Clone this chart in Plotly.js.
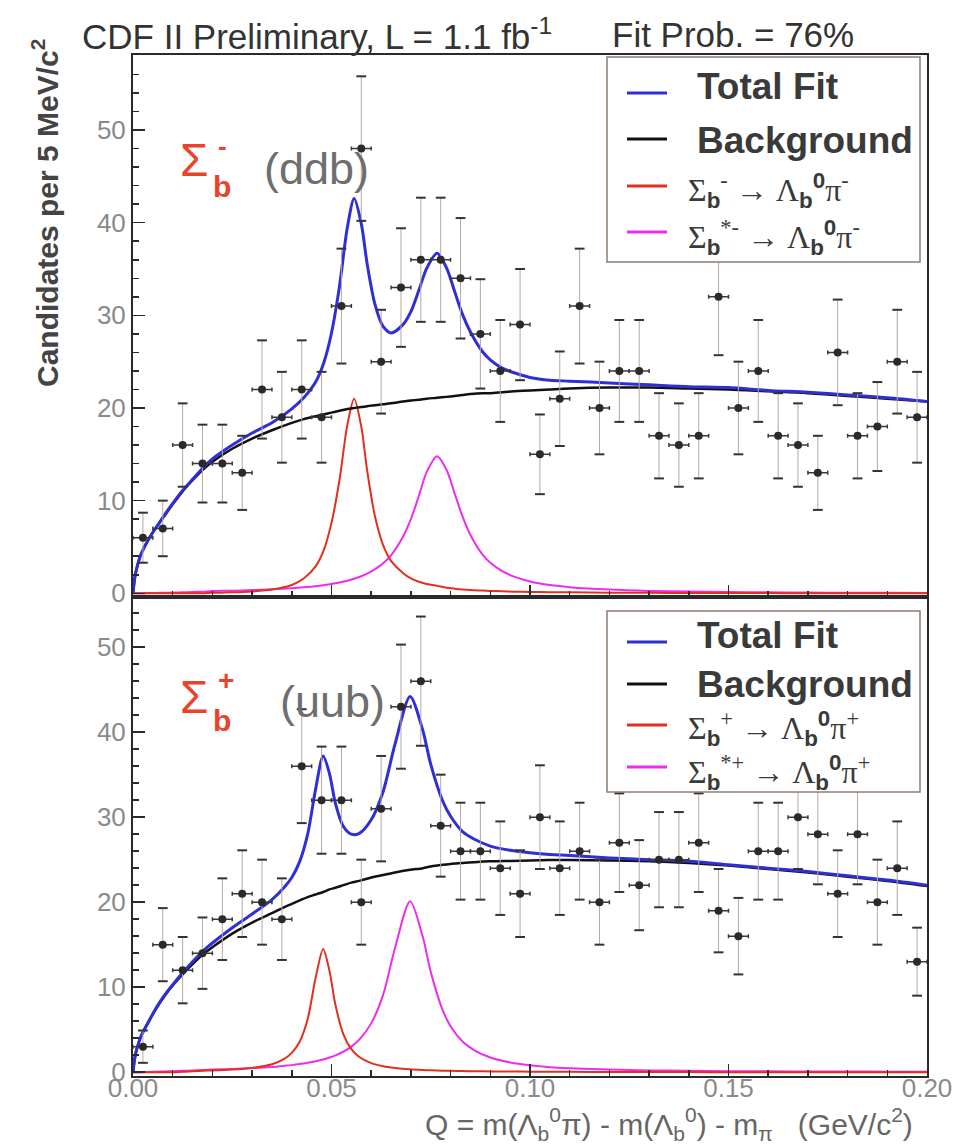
<!DOCTYPE html>
<html><head><meta charset="utf-8">
<script src="https://cdn.plot.ly/plotly-3.0.1.min.js"></script>
<style>html,body{margin:0;padding:0;background:#fff}#chart{width:955px;height:1147px}</style>
</head><body><div id="chart"></div>
<script>
// ---------------- DATA ----------------
const binCenters = [0.0025,0.0075,0.0125,0.0175,0.0225,0.0275,0.0325,0.0375,0.0425,0.0475,
  0.0525,0.0575,0.0625,0.0675,0.0725,0.0775,0.0825,0.0875,0.0925,0.0975,
  0.1025,0.1075,0.1125,0.1175,0.1225,0.1275,0.1325,0.1375,0.1425,0.1475,
  0.1525,0.1575,0.1625,0.1675,0.1725,0.1775,0.1825,0.1875,0.1925,0.1975];
const binHalfWidth = 0.0025;

// Sigma_b^- (top panel)
const countsTop = [6,7,16,14,14,13,22,19,22,19,31,48,25,33,36,36,34,28,24,29,
  15,21,31,20,24,24,17,16,17,32,20,24,17,16,13,26,17,18,25,19];
const errTop = [2.7,3.0,4.5,4.2,4.2,4.0,5.3,4.9,5.3,4.9,6.2,7.8,5.6,6.4,6.7,6.7,6.5,5.9,5.5,6.0,
  4.3,5.1,6.2,5.0,5.5,5.5,4.6,4.5,4.6,6.3,5.0,5.5,4.6,4.5,4.0,5.7,4.6,4.8,5.6,4.9];

// Sigma_b^+ (bottom panel)
const countsBot = [3,15,12,14,18,21,20,18,36,32,32,20,31,43,46,29,26,26,24,21,
  30,24,26,20,27,22,25,25,27,19,16,26,26,30,28,21,28,20,24,13];
const errBot = [1.9,4.3,3.9,4.2,4.8,5.1,5.0,4.8,6.7,6.3,6.3,5.0,6.2,7.3,7.6,6.0,5.7,5.7,5.5,5.1,
  6.1,5.5,5.7,5.0,5.8,5.3,5.6,5.6,5.8,4.9,4.5,5.7,5.7,6.1,5.9,5.1,5.9,5.0,5.5,4.0];

// fit curves, top panel
const fitXTop = [0,0.0005,0.001,0.002,0.004,0.006,0.008,0.01,0.0125,0.015,0.0175,0.02,
  0.025,0.03,0.035,0.04,0.043,0.046,0.048,0.05,0.052,0.054,0.0557,0.0575,0.059,0.061,0.063,0.065,
  0.068,0.07,0.072,0.074,0.0766,0.079,0.081,0.083,0.085,0.088,0.09,0.093,0.096,0.1,0.105,0.11,
  0.12,0.13,0.14,0.15,0.16,0.17,0.18,0.19,0.2];
const bgTop = [0,1.8,2.8,4.2,5.9,7.2,8.4,9.6,11.0,12.2,13.3,14.2,
  15.6,16.7,17.6,18.4,18.8,19.1,19.3,19.5,19.7,19.9,20.0,20.1,20.2,20.3,20.4,20.5,
  20.7,20.8,20.9,21.0,21.1,21.2,21.3,21.4,21.5,21.6,21.6,21.7,21.8,21.9,22.0,22.1,
  22.2,22.2,22.1,22.0,21.8,21.6,21.3,21.0,20.7];
const sigTop = [0,0,0,0,0,0,0,0,0,0,0,0.05,
  0.1,0.2,0.4,0.9,1.6,2.9,4.6,7.6,12.2,18.2,21.0,18.0,13.2,8.2,5.2,3.5,
  2.2,1.6,1.25,1.0,0.8,0.6,0.5,0.42,0.36,0.3,0.26,0.22,0.18,0.15,0.12,0.1,
  0.07,0.05,0.04,0.03,0.02,0.01,0,0,0];
const sigStarTop = [0,0,0,0,0.02,0.04,0.06,0.08,0.1,0.14,0.18,0.24,
  0.28,0.35,0.43,0.55,0.65,0.77,0.88,1.01,1.17,1.36,1.57,1.84,2.12,2.6,3.24,4.1,
  6.1,8.0,10.5,13.1,14.8,13.3,10.8,8.3,6.3,4.2,3.3,2.4,1.8,1.28,0.89,0.66,
  0.4,0.26,0.19,0.14,0.1,0.08,0.06,0.05,0.04];
const totalTop = [0,1.8,2.8,4.2,5.9,7.2,8.5,9.7,11.1,12.3,13.5,14.5,
  16.0,17.3,18.4,19.9,21.1,22.8,24.8,28.1,33.1,39.5,42.6,39.9,35.5,31.1,28.8,28.1,
  29.0,30.4,32.7,35.1,36.7,35.1,32.6,30.1,28.2,26.1,25.2,24.3,23.8,23.3,23.0,22.9,
  22.7,22.5,22.3,22.2,21.9,21.7,21.4,21.1,20.7];

// fit curves, bottom panel
const fitXBot = [0,0.0005,0.001,0.002,0.004,0.006,0.008,0.01,0.0125,0.015,0.0175,0.02,
  0.025,0.03,0.035,0.038,0.04,0.042,0.044,0.046,0.0479,0.0495,0.051,0.053,0.055,0.057,0.06,0.063,
  0.066,0.0698,0.073,0.075,0.078,0.08,0.083,0.086,0.09,0.095,0.1,0.105,0.11,0.12,0.13,0.14,
  0.15,0.16,0.17,0.18,0.19,0.2];
const bgBot = [0,1.8,2.8,4.2,6.0,7.6,9.0,10.2,11.5,12.7,13.8,14.7,
  16.3,17.6,18.7,19.4,19.8,20.2,20.6,20.9,21.2,21.5,21.7,22.0,22.3,22.5,22.9,23.2,
  23.5,23.8,24.0,24.2,24.4,24.5,24.6,24.7,24.8,24.85,24.9,24.95,24.95,24.9,24.8,24.6,
  24.3,23.9,23.5,23.0,22.5,21.9];
const sigBot = [0,0,0,0,0,0,0,0,0.05,0.1,0.18,0.21,
  0.31,0.5,0.94,1.53,2.27,3.6,6.25,11.1,14.5,11.9,7.9,4.46,2.7,1.78,1.06,0.7,
  0.5,0.34,0.26,0.22,0.18,0.16,0.13,0.11,0.09,0.08,0.06,0.05,0.04,0.03,0.02,0.01,
  0,0,0,0,0,0];
const sigStarBot = [0,0,0,0,0.03,0.06,0.09,0.12,0.16,0.2,0.25,0.31,
  0.38,0.48,0.62,0.74,0.83,0.95,1.1,1.28,1.49,1.72,1.97,2.41,3.0,3.82,5.74,9.1,
  14.6,20.1,15.9,11.8,7.3,5.4,3.6,2.57,1.73,1.15,0.81,0.59,0.47,0.3,0.21,0.16,
  0.12,0.1,0.08,0.07,0.06,0.05];
const totalBot = [0,1.8,2.8,4.2,6.0,7.7,9.1,10.3,11.7,13.0,14.2,15.2,
  17.0,18.6,20.3,21.7,22.9,24.8,28.0,33.3,37.2,35.1,31.6,28.9,28.0,28.1,29.7,33.0,
  38.6,44.2,40.2,36.2,31.9,30.1,28.3,27.4,26.6,26.1,25.8,25.6,25.5,25.2,25.0,24.8,
  24.4,24.0,23.6,23.1,22.6,22.0];

const xTickLabels = ['0.00','0.05','0.10','0.15','0.20'];
const xTickVals = [0,0.05,0.1,0.15,0.2];

// ---------------- STYLE / LAYOUT ----------------
const FONT = 'Liberation Sans, Arial, Helvetica, sans-serif';
const SERIF = 'Liberation Serif, Times New Roman, serif';
const C_BLUE = '#2f2fd6', C_BLACK = '#111111', C_RED = '#e2301e', C_MAG = '#ee2cee';
const L = 133, R = 927, T = 55, B = 1076;
const px = p => (p - L) / (R - L);
const py = p => (B - p) / (B - T);

function curve(x, y, color, width, xa, ya) {
  return {x: x, y: y, type: 'scatter', mode: 'lines', xaxis: xa, yaxis: ya,
    line: {color: color, width: width, shape: 'spline', smoothing: 0.8},
    hoverinfo: 'skip', cliponaxis: true};
}
function points(y, err, xa, ya) {
  return {x: binCenters, y: y, type: 'scatter', mode: 'markers', xaxis: xa, yaxis: ya,
    marker: {size: 8, color: '#2a2a2a'},
    error_y: {type: 'data', array: err, color: '#b8a89c', thickness: 1, width: 0},
    error_x: {type: 'constant', value: binHalfWidth, color: '#3a3a3a', thickness: 1.5, width: 2}};
}
function caps(y, err, xa, ya) {
  const yy = y.map((v, i) => v + err[i]).concat(y.map((v, i) => v - err[i]));
  return {x: binCenters.concat(binCenters), y: yy, type: 'scatter', mode: 'markers',
    xaxis: xa, yaxis: ya, hoverinfo: 'skip',
    marker: {symbol: 'line-ew', size: 7, color: '#333', line: {width: 2, color: '#333'}}};
}

const traces = [
  curve(fitXTop, sigStarTop, C_MAG, 2, 'x2', 'y2'),
  curve(fitXTop, sigTop, C_RED, 2, 'x2', 'y2'),
  curve(fitXTop, bgTop, C_BLACK, 2.5, 'x2', 'y2'),
  curve(fitXTop, totalTop, C_BLUE, 3, 'x2', 'y2'),
  points(countsTop, errTop, 'x2', 'y2'),
  caps(countsTop, errTop, 'x2', 'y2'),
  curve(fitXBot, sigStarBot, C_MAG, 2, 'x', 'y'),
  curve(fitXBot, sigBot, C_RED, 2, 'x', 'y'),
  curve(fitXBot, bgBot, C_BLACK, 2.5, 'x', 'y'),
  curve(fitXBot, totalBot, C_BLUE, 3, 'x', 'y'),
  points(countsBot, errBot, 'x', 'y'),
  caps(countsBot, errBot, 'x', 'y')
];

const axisCommon = {
  showgrid: false, zeroline: false, showline: true, linecolor: '#2a2a2a', linewidth: 2, mirror: true,
  ticks: 'inside', ticklen: 12, tickwidth: 1.5, tickcolor: '#2a2a2a',
  tickfont: {family: FONT, size: 26, color: '#8a8a8a'}
};
const xAxis = Object.assign({}, axisCommon, {
  range: [0, 0.2], tickmode: 'array', tickvals: xTickVals, ticktext: xTickLabels,
  ticklabelstandoff: -12,
  tickfont: {family: FONT, size: 26, color: '#8a8a8a'},
  minor: {tickmode: 'linear', tick0: 0, dtick: 0.01, ticks: 'inside', ticklen: 6, tickcolor: '#2a2a2a', showgrid: false}
});
const yAxisBase = Object.assign({}, axisCommon, {
  tickmode: 'linear', tick0: 0, dtick: 10,
  minor: {tickmode: 'linear', tick0: 0, dtick: 2, ticks: 'inside', ticklen: 6, tickcolor: '#2a2a2a', showgrid: false}
});
const split = (B - 597) / (B - T);

const shapes = [];
const annotations = [];
function legendBlock(yTop, yBot, lineYs, colors, labels) {
  shapes.push({type: 'rect', xref: 'paper', yref: 'paper', x0: px(607), x1: px(920), y0: py(yBot), y1: py(yTop),
    line: {color: '#8c7c72', width: 1.5}, fillcolor: '#ffffff', layer: 'above'});
  lineYs.forEach((ly, i) => {
    shapes.push({type: 'line', xref: 'paper', yref: 'paper', x0: px(627), x1: px(667), y0: py(ly), y1: py(ly),
      line: {color: colors[i], width: 3}, layer: 'above'});
    const lab = labels[i];
    annotations.push({xref: 'paper', yref: 'paper', x: px(lab.x), y: py(lab.y), xanchor: 'left', yanchor: 'middle',
      showarrow: false, text: lab.text, font: lab.font});
  });
}
const boldF = {family: FONT, size: 37, color: '#3a3a3a'};
const mathF = {family: SERIF, size: 32, color: '#3a3a3a'};
const sb = '<span style="font-family:Liberation Sans;font-weight:bold">b</span>';
const s0 = '<span style="font-family:Liberation Sans;font-weight:bold">0</span>';
legendBlock(57, 262, [93, 139, 186, 232], [C_BLUE, C_BLACK, C_RED, C_MAG], [
  {x: 695, y: 86, text: '<b>Total Fit</b>', font: boldF},
  {x: 695, y: 140, text: '<b>Background</b>', font: boldF},
  {x: 686, y: 190, text: 'Σ<sub>' + sb + '</sub><sup>-</sup> → Λ<sub>' + sb + '</sub><sup>' + s0 + '</sup>π<sup>-</sup>', font: mathF},
  {x: 686, y: 238, text: 'Σ<sub>' + sb + '</sub><sup>*-</sup> → Λ<sub>' + sb + '</sub><sup>' + s0 + '</sup>π<sup>-</sup>', font: mathF}
]);
legendBlock(611, 792, [642, 684, 725, 767], [C_BLUE, C_BLACK, C_RED, C_MAG], [
  {x: 695, y: 635, text: '<b>Total Fit</b>', font: boldF},
  {x: 695, y: 684, text: '<b>Background</b>', font: boldF},
  {x: 686, y: 728, text: 'Σ<sub>' + sb + '</sub><sup>+</sup> → Λ<sub>' + sb + '</sub><sup>' + s0 + '</sup>π<sup>+</sup>', font: mathF},
  {x: 686, y: 772, text: 'Σ<sub>' + sb + '</sub><sup>*+</sup> → Λ<sub>' + sb + '</sub><sup>' + s0 + '</sup>π<sup>+</sup>', font: mathF}
]);

function ann(x, y, text, font, extra) {
  annotations.push(Object.assign({xref: 'paper', yref: 'paper', x: px(x), y: py(y), xanchor: 'left', yanchor: 'middle',
    showarrow: false, text: text, font: font}, extra || {}));
}
const RED_LBL = '#e8442c';
// header
ann(80, 34, 'CDF II Preliminary, L = 1.1 fb<sup>-1</sup>', {family: FONT, size: 35, color: '#333'});
ann(610, 34, 'Fit Prob. = 76%', {family: FONT, size: 35, color: '#333'});
// y title
ann(45, 213, '<b>Candidates per 5 MeV/c<sup>2</sup></b>', {family: FONT, size: 30, color: '#444'}, {xanchor: 'center', textangle: -90});
// x title
ann(915, 1124, 'Q = m(Λ<sub>b</sub><sup>0</sup>π) - m(Λ<sub>b</sub><sup>0</sup>) - m<sub>π</sub>\u00a0\u00a0\u00a0(GeV/c<sup>2</sup>)',
  {family: FONT, size: 30, color: '#666'}, {xanchor: 'right'});
// panel labels
ann(178, 160, 'Σ', {family: FONT, size: 46, color: RED_LBL});
ann(211, 187, '<b>b</b>', {family: FONT, size: 30, color: RED_LBL});
ann(216, 146, '<b>-</b>', {family: FONT, size: 26, color: RED_LBL});
ann(262, 168, '(ddb)', {family: FONT, size: 45, color: '#6e6e6e'});
ann(178, 697, 'Σ', {family: FONT, size: 46, color: RED_LBL});
ann(211, 720, '<b>b</b>', {family: FONT, size: 30, color: RED_LBL});
ann(216, 680, '<b>+</b>', {family: FONT, size: 28, color: RED_LBL});
ann(278, 701, '(uub)', {family: FONT, size: 45, color: '#6e6e6e'});

const layout = {
  width: 955, height: 1147,
  margin: {l: L, r: 955 - R, t: T, b: 1147 - B, pad: 0},
  paper_bgcolor: '#ffffff', plot_bgcolor: '#ffffff',
  showlegend: false,
  xaxis: Object.assign({}, xAxis, {anchor: 'y', domain: [0, 1]}),
  xaxis2: Object.assign({}, xAxis, {anchor: 'y2', domain: [0, 1], showticklabels: false, matches: 'x'}),
  yaxis: Object.assign({}, yAxisBase, {anchor: 'x', domain: [0, split], range: [-0.45, 55.9]}),
  yaxis2: Object.assign({}, yAxisBase, {anchor: 'x2', domain: [split, 1], range: [-0.4, 58.1]}),
  shapes: shapes,
  annotations: annotations
};

Plotly.newPlot('chart', traces, layout, {staticPlot: true, displayModeBar: false});
</script>
</body></html>
